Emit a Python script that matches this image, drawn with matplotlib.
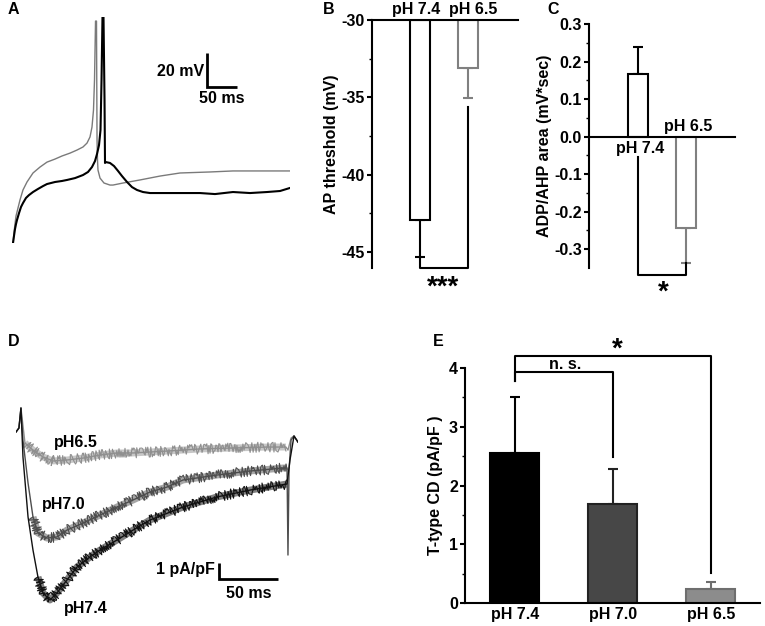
import numpy as np
import matplotlib.pyplot as plt

plt.rcParams['font.family'] = ['Liberation Sans', 'DejaVu Sans']
plt.rcParams['font.weight'] = 'bold'
plt.rcParams['axes.labelweight'] = 'bold'
plt.rcParams['font.size'] = 11.5
plt.rcParams['axes.unicode_minus'] = False

W, H = 765, 626
FS = 11.5

# A: action potentials (ms, mV)
a_t_74 = [0, 1.7, 3.3, 5, 6.7, 8.3, 11.7, 15, 18.3, 23.3, 28.3, 35, 43.3, 51.7, 58.3, 71.7,
          83.3, 91.7, 105, 118.3, 126.7, 133.3, 138.3, 141.7, 145, 147.5, 149.2, 150.8, 152.5,
          154.2, 155, 156.7, 163.3, 170, 176.7, 183.3, 191.7, 200, 208.3, 218.3, 230, 280,
          313.3, 338.3, 368.3, 396.7, 425, 446.7, 463.3]
a_v_74 = [-80, -80, -75.9, -71.8, -68.8, -66.5, -62.4, -58.8, -56.5, -53.5, -51.8, -50, -48.2,
          -46.5, -45.3, -44.1, -43.5, -42.9, -41.8, -40, -38.2, -35.3, -31.8, -27.6, -22.4,
          -13.5, 15.9, 52.9, 52.9, 4.1, -32.9, -32.4, -32.9, -34.7, -37.6, -40.6, -44.1, -47.1,
          -48.8, -50, -50.6, -50.6, -50.6, -51.2, -50, -50.6, -50, -49.4, -47.6]
a_t_65 = [0, 1.7, 3.3, 5, 6.7, 10, 13.3, 18.3, 25, 35, 46.7, 58.3, 71.7, 83.3, 96.7, 108.3,
          118.3, 125, 130, 133.3, 135.8, 137.5, 139.2, 140.8, 141.7, 142.5, 143.3, 146.7,
          153.3, 163.3, 168.3, 176.7, 185, 213.3, 246.7, 280, 330, 368.3, 413.3, 463.3]
a_v_65 = [-80, -80, -74.1, -68.8, -64.1, -59.4, -54.7, -48.8, -44.1, -38.8, -35.3, -32.4,
          -30.6, -28.8, -27.1, -25.3, -23.5, -21.2, -17.6, -11.8, -1.8, 15.9, 50.6, 50.6,
          -19.4, -31.2, -37.1, -41.8, -44.7, -45.9, -45.9, -45.3, -44.7, -42.9, -40.6, -38.8,
          -38.2, -37.6, -37.6, -37.6]

# B: AP threshold
b_groups = ['pH 7.4', 'pH 6.5']
b_mean = [-42.9, -33.1]
b_sem = [2.45, 1.95]

# C: ADP/AHP area
c_groups = ['pH 7.4', 'pH 6.5']
c_mean = [0.168, -0.243]
c_sem = [0.072, 0.093]

# D: T-type current traces (ms, pA/pF)
d_t_65 = [0, 2.5, 4.2, 7.6, 14.4, 22.9, 31.4, 43.2, 56.8, 71.2, 85.6, 99.2, 113.6, 128,
          155.9, 183.9, 212.7, 228.8, 230.5, 233.1, 235.6, 239]
d_i_65 = [0, 0.25, 1.5, -0.69, -1.13, -1.56, -1.81, -1.75, -1.63, -1.44, -1.31, -1.31, -1.25,
          -1.19, -1.06, -1.0, -0.94, -0.94, -1.13, -0.38, -0.25, -0.63]
d_t_70 = [0, 2.5, 4.2, 5.9, 10.2, 14.4, 18.6, 26.3, 34.7, 43.2, 56.8, 71.2, 85.6, 99.2, 113.6,
          128, 141.5, 170.3, 198.3, 226.3, 229.7, 230.5, 231.4, 233.1, 235.6, 239]
d_i_70 = [0, 0.25, 1.5, -0.5, -3.19, -5.31, -6.31, -6.63, -6.56, -6.13, -5.69, -5.19, -4.69,
          -4.25, -3.75, -3.44, -3.0, -2.69, -2.44, -2.25, -2.25, -7.69, -2.38, -0.5, -0.25, -0.63]
d_t_74 = [0, 2.5, 4.2, 5.9, 10.2, 14.4, 18.6, 22.9, 28.8, 34.7, 43.2, 51.7, 62.7, 71.2, 85.6,
          99.2, 113.6, 141.5, 170.3, 198.3, 229.7, 232.2, 235.6, 239]
d_i_74 = [0, 0.25, 1.5, -1.56, -5.31, -7.38, -9.06, -10.06, -10.5, -10.06, -9.25, -8.44, -7.81,
          -7.38, -6.75, -6.13, -5.5, -4.69, -4.06, -3.63, -3.25, -1.75, -0.25, -0.63]

# E: T-type current density
e_groups = ['pH 7.4', 'pH 7.0', 'pH 6.5']
e_mean = [2.55, 1.68, 0.24]
e_sem = [0.96, 0.60, 0.12]


def box(x0, y0, x1, y1):
    return [x0 / W, 1 - y1 / H, (x1 - x0) / W, (y1 - y0) / H]


fig = plt.figure(figsize=(W / 100, H / 100), dpi=100)
LW = 1.5
tick_kw = dict(direction='out', width=LW, length=3.5, labelsize=FS, pad=1.5)

# ---- A
axA = fig.add_axes(box(12, 17, 290, 243))
axA.set_xlim(0, 463.3)
axA.set_ylim(-80, 53)
axA.axis('off')
axA.plot(a_t_65, a_v_65, color='#7a7a7a', lw=1.0)
axA.plot(a_t_74, a_v_74, color='black', lw=1.5)
t0, v0 = 325, 11.8
axA.plot([t0, t0, t0 + 50], [v0 + 20, v0, v0], color='black', lw=2, clip_on=False,
         solid_joinstyle='miter', solid_capstyle='butt')
axA.text(t0 - 5, v0 + 9, '20 mV', ha='right', va='center', fontsize=FS)
axA.text(t0 + 25, v0 - 7, '50 ms', ha='center', va='center', fontsize=FS)

# ---- B
axB = fig.add_axes(box(372, 20, 518, 267.5))
axB.set_xlim(-1.0, 2.04)
axB.set_ylim(-46, -30)
xb = np.arange(len(b_groups))
b_cols = ['black', '#808080']
for i in xb:
    axB.bar(i, b_mean[i] + 30, bottom=-30, width=0.42, color='white',
            edgecolor=b_cols[i], lw=LW, zorder=2)
    axB.errorbar(i, b_mean[i], yerr=[[b_sem[i]], [0]], fmt='none', ecolor=b_cols[i],
                 elinewidth=LW, capsize=3.5, capthick=LW, zorder=1)
for s in ['right', 'bottom']:
    axB.spines[s].set_visible(False)
for s in ['left', 'top']:
    axB.spines[s].set_linewidth(LW)
axB.set_xticks([])
for i, dx in zip(xb, [-0.08, 0.1]):
    axB.text(i + dx, -29.8, b_groups[i], ha='center', va='bottom', fontsize=FS)
axB.set_yticks([-30, -35, -40, -45])
axB.set_yticks([-32.5, -37.5, -42.5], minor=True)
axB.tick_params(axis='y', **tick_kw)
axB.tick_params(axis='y', which='minor', length=2, width=1)
axB.set_ylabel('AP threshold (mV)', fontsize=FS, labelpad=2)
axB.plot([0, 0, 1, 1], [b_mean[0] - b_sem[0], -46.03, -46.03, -35.6], color='black',
         lw=LW, clip_on=False)
axB.text(0.48, -47.3, '***', ha='center', va='center', fontsize=20)

# ---- C
axC = fig.add_axes(box(589, 24, 735, 268))
axC.set_xlim(-1.02, 2.02)
axC.set_ylim(-0.35, 0.3)
xc = np.arange(len(c_groups))
c_cols = ['black', '#808080']
for i in xc:
    axC.bar(i, c_mean[i], width=0.42, color='white', edgecolor=c_cols[i], lw=LW, zorder=2)
    err = [[0], [c_sem[i]]] if c_mean[i] > 0 else [[c_sem[i]], [0]]
    axC.errorbar(i, c_mean[i], yerr=err, fmt='none', ecolor=c_cols[i],
                 elinewidth=LW, capsize=3.5, capthick=LW, zorder=1)
for s in ['right', 'top']:
    axC.spines[s].set_visible(False)
axC.spines['bottom'].set_position(('data', 0))
for s in ['left', 'bottom']:
    axC.spines[s].set_linewidth(LW)
axC.set_xticks([])
axC.set_yticks([0.3, 0.2, 0.1, 0.0, -0.1, -0.2, -0.3])
axC.set_yticks([0.25, 0.15, 0.05, -0.05, -0.15, -0.25], minor=True)
axC.yaxis.set_major_formatter(plt.FormatStrFormatter('%.1f'))
axC.tick_params(axis='y', **tick_kw)
axC.tick_params(axis='y', which='minor', length=2, width=1)
axC.set_ylabel('ADP/AHP area (mV*sec)', fontsize=FS, labelpad=2)
axC.text(0.04, -0.032, c_groups[0], ha='center', va='center', fontsize=FS)
axC.text(1.04, 0.027, c_groups[1], ha='center', va='center', fontsize=FS)
axC.plot([0, 0, 1, 1], [-0.055, -0.369, -0.369, c_mean[1] - c_sem[1]], color='black',
         lw=LW, clip_on=False)
axC.text(0.52, -0.415, '*', ha='center', va='center', fontsize=20)

# ---- D
axD = fig.add_axes(box(16, 400, 298, 616))
axD.set_xlim(0, 239)
axD.set_ylim(-11.5, 2)
axD.axis('off')
# (times, currents, colour, band colour, first/last index of the noisy stretch)
for t, i, c, bc, a, b in [(d_t_65, d_i_65, '#8f8f8f', '#b5b5b5', 3, 18),
                          (d_t_70, d_i_70, '#4d4d4d', '#8a8a8a', 5, 21),
                          (d_t_74, d_i_74, '#111111', '#555555', 6, 21)]:
    axD.plot(t[a:b], i[a:b], color=bc, lw=5.0, alpha=0.75, solid_capstyle='butt')
    axD.plot(t, i, color=c, lw=1.0)
    ln, = axD.plot(t[a:b], i[a:b], color=c, lw=0.8)
    ln.set_sketch_params(scale=5, length=2, randomness=4)
ts, i_s = 172, -9.19
axD.plot([ts, ts, ts + 50], [i_s + 1, i_s, i_s], color='black', lw=2, clip_on=False,
         solid_joinstyle='miter', solid_capstyle='butt')
axD.text(ts - 3.5, i_s + 0.6, '1 pA/pF', ha='right', va='center', fontsize=FS)
axD.text(ts + 25, i_s - 0.9, '50 ms', ha='center', va='center', fontsize=FS)
axD.text(32.2, -0.63, 'pH6.5', ha='left', va='center', fontsize=FS)
axD.text(22, -4.56, 'pH7.0', ha='left', va='center', fontsize=FS)
axD.text(40.7, -11.0, 'pH7.4', ha='left', va='center', fontsize=FS)

# ---- E
axE = fig.add_axes(box(465, 368, 760, 603))
axE.set_xlim(-0.51, 2.5)
axE.set_ylim(0, 4)
xe = np.arange(len(e_groups))
e_fill = ['black', '#474747', '#8c8c8c']
e_edge = ['black', '#222222', '#6e6e6e']
for i in xe:
    axE.bar(i, e_mean[i], width=0.5, color=e_fill[i], edgecolor=e_edge[i], lw=LW, zorder=2)
    axE.errorbar(i, e_mean[i], yerr=[[0], [e_sem[i]]], fmt='none', ecolor=e_edge[i],
                 elinewidth=LW, capsize=3.5, capthick=LW, zorder=1)
for s in ['right', 'top']:
    axE.spines[s].set_visible(False)
for s in ['left', 'bottom']:
    axE.spines[s].set_linewidth(LW)
axE.set_xticks(xe, labels=e_groups)
axE.tick_params(axis='x', length=0, pad=3, labelsize=FS)
axE.set_yticks([0, 1, 2, 3, 4])
axE.set_yticks([0.5, 1.5, 2.5, 3.5], minor=True)
axE.tick_params(axis='y', **tick_kw)
axE.tick_params(axis='y', which='minor', length=2, width=1)
axE.set_ylabel('T-type CD (pA/pF )', fontsize=FS, labelpad=4)
axE.plot([0, 0, 1, 1], [3.78, 3.93, 3.93, 2.49], color='black', lw=LW, clip_on=False)
axE.plot([0, 0, 2, 2], [3.78, 4.2, 4.2, 0.51], color='black', lw=LW, clip_on=False)
axE.text(0.51, 4.06, 'n. s.', ha='center', va='center', fontsize=FS)
axE.text(1.04, 4.32, '*', ha='center', va='center', fontsize=20)

# panel letters
for lab, x, y in [('A', 8, 10), ('B', 323, 10), ('C', 547, 10), ('D', 8, 341), ('E', 433, 341)]:
    fig.text(x / W, 1 - y / H, lab, ha='left', va='center', fontsize=FS)

fig.savefig('out.png', dpi=100)
